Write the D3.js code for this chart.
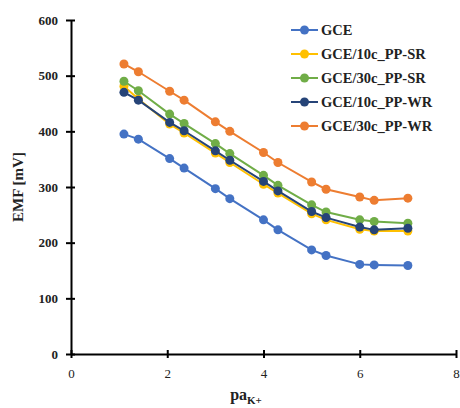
<!DOCTYPE html>
<html><head><meta charset="utf-8">
<script src="https://cdn.jsdelivr.net/npm/d3@7/dist/d3.min.js"></script>
<style>body{margin:0;background:#fff}svg{display:block}</style>
</head><body>
<svg id="c" width="460" height="408"></svg>
<script>
const xValues = [1.1, 1.4, 2.05, 2.35, 3.0, 3.3, 4.0, 4.3, 5.0, 5.3, 6.0, 6.3, 7.0];
const seriesNames = ["GCE", "GCE/10c_PP-SR", "GCE/30c_PP-SR", "GCE/10c_PP-WR", "GCE/30c_PP-WR"];
const gce      = [395, 386, 351, 334, 297, 279, 241, 223, 187, 177, 161, 160, 159];
const pp10SR   = [481, 458, 413, 397, 361, 344, 305, 289, 252, 241, 224, 221, 221];
const pp30SR   = [490, 473, 431, 414, 378, 360, 321, 303, 268, 255, 241, 238, 235];
const pp10WR   = [470, 456, 416, 401, 365, 348, 310, 293, 256, 245, 228, 223, 226];
const pp30WR   = [521, 507, 472, 456, 417, 400, 362, 344, 309, 296, 282, 276, 280];
const xTicks = [0, 2, 4, 6, 8];
const yTicks = [0, 100, 200, 300, 400, 500, 600];
const colors = ["#4472C4", "#FFC000", "#70AD47", "#264478", "#ED7D31"];
const allSeries = [gce, pp10SR, pp30SR, pp10WR, pp30WR];

const svg = d3.select("#c");
const x = d3.scaleLinear().domain([0, 8]).range([71, 456]);
const y = d3.scaleLinear().domain([0, 600]).range([354, 20]);
const serif = "Liberation Serif, Times New Roman, serif";

// axes
const xAxis = svg.append("g").attr("transform", `translate(0,${y(0)})`)
  .call(d3.axisBottom(x).tickValues(xTicks).tickSizeInner(4).tickSizeOuter(0).tickPadding(8));
const yAxis = svg.append("g").attr("transform", `translate(${x(0)},0)`)
  .call(d3.axisLeft(y).tickValues(yTicks).tickSizeInner(5).tickSizeOuter(0).tickPadding(8));
[xAxis, yAxis].forEach(g => {
  g.attr("font-family", serif).attr("font-size", 13);
  g.select(".domain").attr("stroke", "#000").attr("stroke-width", 2);
  g.selectAll(".tick line").attr("stroke", "#000").attr("stroke-width", 2);
  g.selectAll(".tick text").attr("fill", "#222").attr("font-family", serif).attr("font-size", 13);
});
xAxis.selectAll(".tick line").attr("y1", -4);
yAxis.selectAll(".tick line").attr("x1", 4);
yAxis.selectAll(".tick text").attr("font-weight", "bold");
xAxis.selectAll(".tick text").attr("dy", "0.9em");

// series
const line = d3.line().x((d, i) => x(xValues[i])).y(d => y(d));
allSeries.forEach((s, k) => {
  const g = svg.append("g");
  g.append("path").datum(s).attr("d", line).attr("fill", "none")
    .attr("stroke", colors[k]).attr("stroke-width", 2);
  g.selectAll("circle").data(s).join("circle")
    .attr("cx", (d, i) => x(xValues[i])).attr("cy", d => y(d)).attr("r", 4.5)
    .attr("fill", colors[k]);
});

// legend
const lg = svg.append("g");
seriesNames.forEach((n, k) => {
  const yy = 30 + k * 24;
  lg.append("line").attr("x1", 291).attr("x2", 318).attr("y1", yy).attr("y2", yy)
    .attr("stroke", colors[k]).attr("stroke-width", 2);
  lg.append("circle").attr("cx", 304.5).attr("cy", yy).attr("r", 4.5).attr("fill", colors[k]);
  lg.append("text").attr("x", 321).attr("y", yy).attr("dy", "0.35em")
    .attr("font-family", serif).attr("font-weight", "bold").attr("font-size", 14.5)
    .attr("fill", "#222").text(n);
});

// axis titles
svg.append("text").attr("transform", "translate(23,187) rotate(-90)")
  .attr("text-anchor", "middle").attr("font-family", serif).attr("font-weight", "bold")
  .attr("font-size", 15).attr("fill", "#222").text("EMF [mV]");
const xt = svg.append("text").attr("x", 246).attr("y", 400).attr("text-anchor", "middle")
  .attr("font-family", serif).attr("font-weight", "bold").attr("fill", "#222");
xt.append("tspan").attr("font-size", 16).text("pa");
xt.append("tspan").attr("font-size", 11).attr("dy", 4).text("K+");
</script>
</body></html>
